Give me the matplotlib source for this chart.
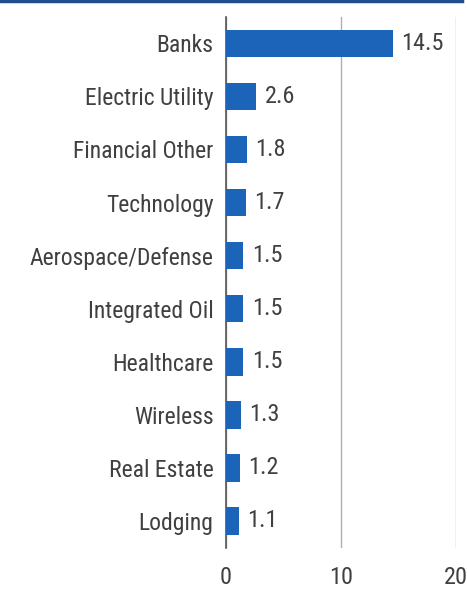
import matplotlib
matplotlib.use('Agg')
import matplotlib.pyplot as plt
from matplotlib import font_manager as fm
import numpy as np

categories = ['Banks', 'Electric Utility', 'Financial Other', 'Technology',
              'Aerospace/Defense', 'Integrated Oil', 'Healthcare', 'Wireless',
              'Real Estate', 'Lodging']
values = [14.5, 2.6, 1.8, 1.7, 1.5, 1.5, 1.5, 1.3, 1.2, 1.1]
xticks = [0, 10, 20]

names = set(f.name for f in fm.fontManager.ttflist)
fam = 'Liberation Sans'
for cand in ['Liberation Sans Narrow', 'Roboto Condensed', 'Open Sans Condensed']:
    if cand in names:
        fam = cand
        break
narrow = fam != 'Liberation Sans'
matplotlib.rcParams.update({'font.family': fam, 'font.size': 16})
txt = '#404040'
barc = '#1c64b9'
lab_fs = 17 if narrow else 15
num_fs = 17.5 if narrow else 16

fig = plt.figure(figsize=(4.67, 5.91), dpi=100)
ax = fig.add_axes([0.484, 0.0736, 0.492, 0.898])

y = np.arange(len(categories))
ax.barh(y, values, height=0.52, color=barc, zorder=3)
for yi, v in zip(y, values):
    ax.text(v + 0.75, yi, f'{v:.1f}', va='center', ha='left', color=txt, fontsize=num_fs)

ax.set_ylim(len(categories) - 0.5, -0.5)
ax.set_xlim(0, 20)
ax.set_yticks(y)
ax.set_yticklabels(categories, color=txt, fontsize=lab_fs)
ax.set_xticks(xticks)
ax.set_xticklabels([str(t) for t in xticks], color=txt, fontsize=num_fs)
ax.tick_params(axis='both', length=0)
ax.tick_params(axis='y', pad=9)
ax.tick_params(axis='x', pad=13)
ax.xaxis.grid(True, color='#b0b0b0', linewidth=1, zorder=0)
for s in ['top', 'right', 'bottom']:
    ax.spines[s].set_visible(False)
ax.spines['left'].set_color('#555555')
ax.spines['left'].set_linewidth(1.2)

# dark blue rule at the top
fig.add_artist(plt.Line2D([0, 0.99], [0.998, 0.998], color='#1f4e8c', linewidth=2.5,
                          transform=fig.transFigure))

fig.savefig('out.png', dpi=100)
